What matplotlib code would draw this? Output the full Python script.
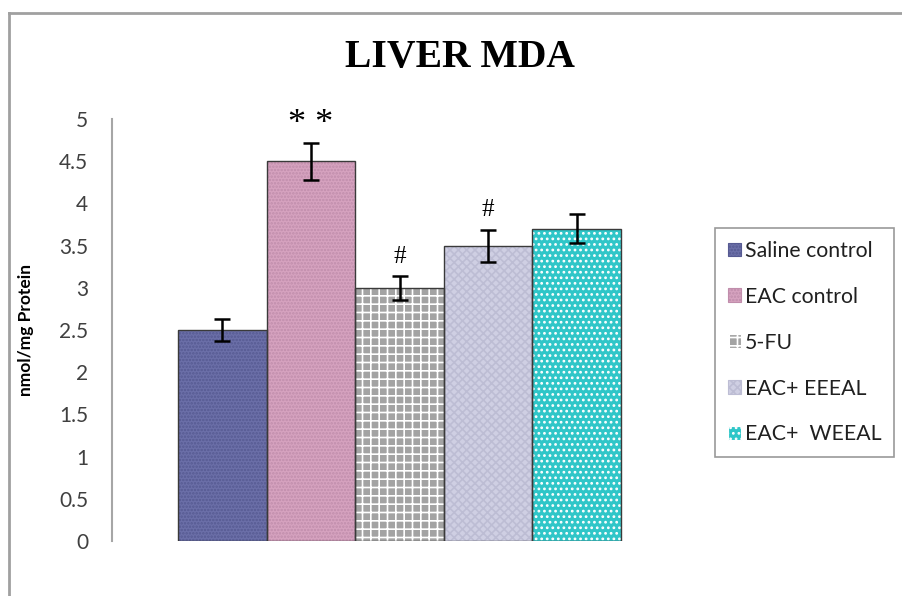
import matplotlib
matplotlib.use('Agg')
import matplotlib.pyplot as plt
from matplotlib.patches import Patch
from matplotlib.lines import Line2D
import numpy as np

groups = ['Saline control', 'EAC control', '5-FU', 'EAC+ EEEAL', 'EAC+  WEEAL']
mda = [2.5, 4.5, 3.0, 3.5, 3.7]
mda_err = [0.13, 0.22, 0.14, 0.19, 0.17]
marks = ['', '**', '#', '#', '']

face_colors = ['#6b6fa8', '#d6a2bf', '#a3a3a3', '#cfcfe3', '#2fc6c8']
hatch_colors = ['#565a92', '#c08dab', 'white', '#bdbdd4', 'white']
hatches = ['.....', '.....', '++', 'xxxx', '...']

plt.rcParams['hatch.linewidth'] = 1.2
plt.rcParams['font.family'] = 'Lato'

fig = plt.figure(figsize=(9.02, 5.96), dpi=100)

# outer chart frame (left and top edges visible)
fig.add_artist(Line2D([9/902, 9/902], [0, 1 - 13/596], transform=fig.transFigure,
                      color='#a0a0a0', lw=2))
fig.add_artist(Line2D([9/902, 1], [1 - 13/596, 1 - 13/596], transform=fig.transFigure,
                      color='#a0a0a0', lw=2))

ax = fig.add_axes([112/902, 1 - 541/596, 575/902, 422/596])

x = np.arange(len(groups))
# fill + pattern
ax.bar(x, mda, 1.0, color=face_colors, edgecolor=hatch_colors, hatch=hatches, linewidth=0)
# outline + error bars
ax.bar(x, mda, 1.0, color='none', edgecolor='#3a3a3a', linewidth=1.0,
       yerr=mda_err, error_kw=dict(ecolor='black', elinewidth=1.8, capsize=6, capthick=1.8))

for xi, v, e, m in zip(x, mda, mda_err, marks):
    if m == '**':
        ax.text(xi, v + e + 0.02, '* *', ha='center', va='bottom', fontsize=26,
                family='Liberation Serif')
    elif m:
        ax.text(xi, v + e + 0.1, m, ha='center', va='bottom', fontsize=18,
                family='Liberation Serif')

ax.set_xlim(-1.244, 5.244)
ax.set_ylim(0, 5)
ax.set_yticks(np.arange(0, 5.01, 0.5))
ax.set_yticklabels(['0', '0.5', '1', '1.5', '2', '2.5', '3', '3.5', '4', '4.5', '5'])
ax.tick_params(axis='y', length=0, pad=17, labelsize=15, labelcolor='#404040')
ax.set_xticks([])
for s in ['top', 'right', 'bottom']:
    ax.spines[s].set_visible(False)
ax.spines['left'].set_color('#a6a6a6')
ax.spines['left'].set_linewidth(1.5)

ax.set_ylabel('nmol/mg Protein', fontsize=12.5, fontweight='bold', labelpad=18)

fig.text(460/902, 1 - 58/596, 'LIVER MDA', ha='center', va='center', fontsize=28.5,
         fontweight='bold', family='Liberation Serif')

handles = [Patch(facecolor=fc, edgecolor=hc, hatch=h) for fc, hc, h in
           zip(face_colors, hatch_colors, hatches)]
leg = fig.legend(handles, groups, loc='upper left', bbox_to_anchor=(715/902, 1 - 228/596),
                 frameon=True, fancybox=False, fontsize=15.3, handlelength=0.6,
                 handleheight=0.6, handletextpad=0.2, labelspacing=1.22,
                 borderpad=0.6, borderaxespad=0)
leg.get_frame().set_edgecolor('#808080')
leg.get_frame().set_linewidth(1.2)
for t in leg.get_texts():
    t.set_color('#202020')
for p in leg.get_patches():
    p.set_linewidth(0.8)

fig.savefig('out.png', dpi=100)
